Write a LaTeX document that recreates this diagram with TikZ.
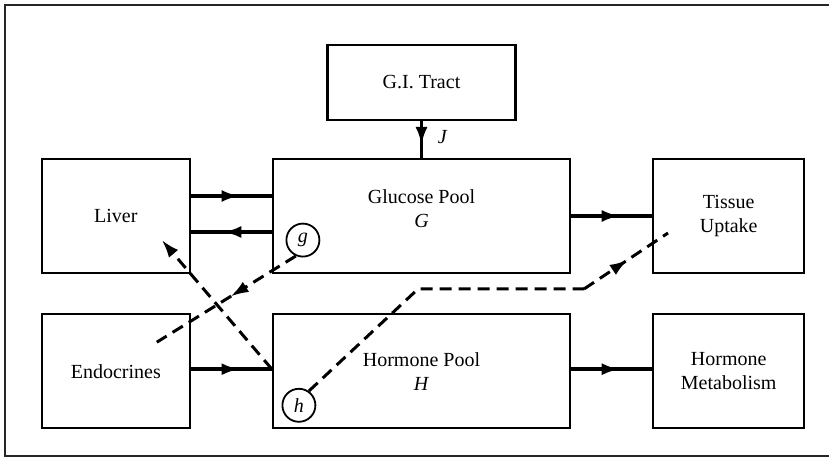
\documentclass[tikz,border=0pt]{standalone}
\usepackage{fontspec}
\setmainfont{Liberation Serif}
\usetikzlibrary{positioning, arrows.meta, decorations.markings}

\begin{document}
\begin{tikzpicture}[
      x=0.5pt, y=-0.5pt,
      node distance=18.5pt and 40.5pt,
      box/.style={
        draw, line width=1.1pt, minimum height=57pt,
        align=center, inner sep=0pt,
        font=\fontsize{10}{12}\selectfont
      },
      pool/.style={box, minimum width=148.5pt},
      side/.style={box, minimum width=74pt},
      ctrl/.style={draw, circle, line width=0.9pt, minimum size=16.5pt, inner sep=0pt,
        font=\fontsize{10}{12}\selectfont},
      flow/.style={line width=1.7pt},
      signal/.style={line width=1.5pt, dash pattern=on 6pt off 3.5pt},
      midarrow/.style={postaction={decorate}, decoration={markings,
        mark=at position #1 with {\arrow{Latex[length=9pt,width=6pt]}}}}
    ]
      \useasboundingbox (0,0) rectangle (829,458);
      \draw[line width=0.9pt, black!85] (829,5) -- (5,5) -- (5,456) -- (829,456);

      \node[pool] (glucose) at (421.5,216) {Glucose Pool\\\textit{G}\\[-5pt]};
      \node[box, minimum width=94pt, minimum height=37.5pt, above=of glucose] (gitract) {G.I. Tract};
      \node[side, left=of glucose] (liver) {Liver};
      \node[side, minimum width=75.5pt, right=of glucose] (tissue) {Tissue\\Uptake};
      \node[pool, below=19.5pt of glucose] (hormone) {Hormone Pool\\\textit{H}};
      \node[side, left=of hormone] (endocrines) {Endocrines};
      \node[side, minimum width=75.5pt, right=of hormone] (metabolism) {Hormone\\Metabolism};

      \node[ctrl] (g) at ([shift={(15.5pt,17pt)}]glucose.south west) {\textit{g}};
      \node[ctrl] (h) at ([shift={(13.5pt,12pt)}]hormone.south west) {\textit{h}};

      \coordinate (gend) at ([shift={(20.5pt,14.5pt)}]endocrines.center);
      \coordinate (lend) at ([shift={(23pt,-12pt)}]liver.center);
      \coordinate (hbend1) at (418,289);
      \coordinate (hbend2) at (584,289);
      \coordinate (tend) at (668,233);

      \draw[flow, midarrow=0.65] (gitract) -- (glucose) node[pos=0.45, right, xshift=4pt] {\textit{J}};
      \draw[flow, midarrow=0.6] ([yshift=10pt]liver.east) -- ([yshift=10pt]glucose.west);
      \draw[flow, midarrow=0.6] ([yshift=-8pt]glucose.west) -- ([yshift=-8pt]liver.east);
      \draw[flow, midarrow=0.6] (glucose) -- (tissue);
      \draw[flow, midarrow=0.6] ([yshift=1pt]endocrines.east) -- ([yshift=1pt]hormone.west);
      \draw[flow, midarrow=0.6] ([yshift=1pt]hormone.east) -- ([yshift=1pt]metabolism.west);

      \draw[signal, midarrow=0.47] (g.246) -- (gend);
      \draw[signal, -{Latex[length=9pt,width=6pt]}] ([yshift=1pt]hormone.west) -- (lend);
      \draw[signal] (h.55) -- (hbend1) -- (hbend2);
      \draw[signal, midarrow=0.52] (hbend2) -- (tend);
    \end{tikzpicture}
\end{document}
